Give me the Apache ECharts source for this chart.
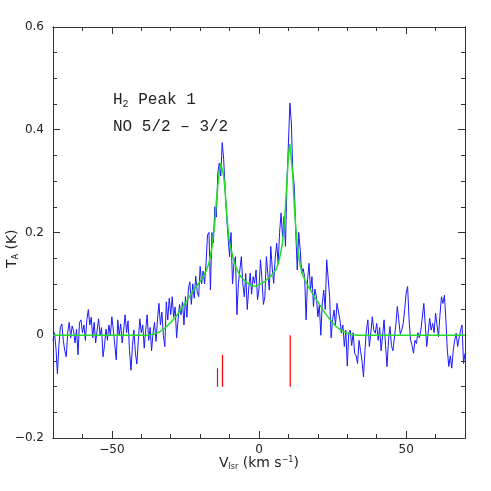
<!DOCTYPE html>
<html>
<head>
<meta charset="utf-8">
<script src="https://cdn.jsdelivr.net/npm/echarts@6/dist/echarts.min.js"></script>
<style>
  html, body { margin: 0; padding: 0; background: #fff; }
  #chart { width: 491px; height: 491px; }
</style>
</head>
<body>
<div id="chart"></div>
<script>
// spectrum channels: first velocity and channel width (km/s)
const vStart = -70;
const vStep = 0.5;
// observed T_A (K), one value per channel from -70 to +70 km/s
const specT = [
  -0.01, 0.005, -0.025, -0.075, -0.02, 0.015, 0.022, -0.01, -0.03, -0.042,
  0.005, 0.025, -0.005, 0.018, 0.008, -0.015, 0.012, -0.038, 0.025, 0.03,
  0.005, 0.02, -0.01, 0.03, 0.05, 0.02, 0.035, -0.005, 0.025, -0.015,
  0.01, 0.032, 0.0, 0.015, -0.042, -0.02, 0.012, -0.01, 0.02, 0.0,
  0.036, 0.01, -0.02, -0.048, 0.03, 0.0, 0.022, -0.015, 0.01, 0.04,
  0.005, 0.028, -0.03, -0.068, -0.02, 0.01, -0.035, -0.056, -0.01, 0.032,
  0.005, 0.02, -0.025, 0.01, 0.04, -0.01, 0.015, -0.03, 0.005, 0.025,
  -0.012, 0.03, 0.062, 0.02, 0.045, 0.0, -0.022, 0.065, 0.03, 0.072,
  0.04, 0.075, 0.035, 0.055, -0.005, 0.03, 0.06, 0.04, 0.065, 0.02,
  0.075, 0.035, 0.09, 0.104, 0.06, 0.1, 0.072, 0.115, 0.085, 0.075,
  0.134, 0.1, 0.125, 0.1, 0.14, 0.195, 0.2, 0.088, 0.2, 0.18,
  0.25, 0.23, 0.316, 0.335, 0.31, 0.375, 0.342, 0.283, 0.231, 0.19,
  0.153, 0.2, 0.1, 0.14, 0.153, 0.04, 0.1, 0.127, 0.153, 0.1,
  0.075, 0.12, 0.05, 0.09, 0.121, 0.08, 0.114, 0.101, 0.127, 0.069,
  0.09, 0.147, 0.11, 0.06, 0.075, 0.153, 0.12, 0.088, 0.173, 0.13,
  0.101, 0.15, 0.179, 0.14, 0.2, 0.238, 0.192, 0.231, 0.173, 0.3,
  0.374, 0.452, 0.413, 0.316, 0.29, 0.199, 0.127, 0.2, 0.166, 0.121,
  0.13, 0.114, 0.03, 0.108, 0.14, 0.088, 0.114, 0.056, 0.09, 0.075,
  0.036, 0.06, 0.0, 0.062, 0.088, 0.05, 0.147, 0.15, 0.075, -0.005,
  0.03, 0.049, 0.02, 0.062, 0.065, 0.03, 0.004, 0.02, -0.022, 0.01,
  -0.06, 0.004, 0.01, -0.02, 0.005, -0.035, -0.04, -0.055, -0.01, -0.03,
  -0.05, -0.081, -0.03, 0.01, 0.03, -0.022, 0.005, 0.036, 0.01, 0.004,
  0.023, -0.01, 0.015, -0.03, 0.0, 0.03, -0.02, -0.061, -0.01, 0.017,
  -0.02, -0.03, -0.029, 0.02, 0.056, 0.03, 0.002, 0.01, 0.023, 0.05,
  0.082, 0.095, 0.03, -0.009, -0.02, -0.035, -0.01, -0.016, 0.005, -0.005,
  0.01, 0.035, 0.062, 0.02, -0.022, 0.005, 0.033, 0.01, 0.023, 0.005,
  0.043, 0.02, -0.003, 0.04, 0.075, 0.062, 0.078, 0.03, -0.029, -0.061,
  -0.04, -0.064, -0.03, -0.01, 0.004, -0.022, -0.005, 0.01, 0.02, -0.055,
  -0.035
];

// fitted profile (green)
const fitV = [-70, -38, -36, -34, -32, -30, -28, -26, -24, -22,
  -20, -18, -17, -16, -15, -14.5, -14, -13.5, -13, -12.5,
  -12, -11.5, -11, -10.5, -10, -9, -8, -7, -6, -5,
  -4, -3, -2, -1, 0, 1, 2, 3, 4, 5,
  6, 7, 8, 8.5, 9, 9.5, 10, 10.5, 11, 11.5,
  12, 12.5, 13, 14, 15, 16, 17, 18, 20, 22,
  24, 26, 28, 30, 32, 34, 70];
const fitT = [0, 0, 0.002, 0.006, 0.014, 0.025, 0.038, 0.055, 0.072, 0.09,
  0.105, 0.125, 0.14, 0.17, 0.22, 0.26, 0.29, 0.32, 0.335, 0.335,
  0.31, 0.28, 0.24, 0.205, 0.18, 0.155, 0.135, 0.122, 0.113, 0.107,
  0.102, 0.098, 0.096, 0.096, 0.098, 0.101, 0.105, 0.11, 0.115, 0.122,
  0.13, 0.15, 0.18, 0.21, 0.25, 0.3, 0.35, 0.372, 0.37, 0.31,
  0.25, 0.21, 0.175, 0.135, 0.115, 0.103, 0.093, 0.083, 0.065, 0.047,
  0.031, 0.018, 0.009, 0.004, 0.001, 0, 0];

// red line markers: velocity, top value, common bottom
const markV = [-14.1, -12.4, 10.6];
const markTop = [-0.064, -0.038, 0.0];
const markBottom = -0.1;

// axis ticks
const xMajor = [-50, 0, 50];
const xMinor = [-60, -40, -30, -20, -10, 10, 20, 30, 40, 60];
const yMajor = [-0.2, 0, 0.2, 0.4, 0.6];
const yMinor = [-0.15, -0.1, -0.05, 0.05, 0.1, 0.15, 0.25, 0.3, 0.35, 0.45, 0.5, 0.55];

const frameColor = '#333';
const labelFont = 'DejaVu Sans';
const noteFont = 'Liberation Mono';

const chart = echarts.init(document.getElementById('chart'));

function fmt(v) {
  return v < 0 ? '\u2212' + Math.abs(v) : String(v);
}

function xAx(pos, ticks, len, withLabel) {
  return {
    type: 'value', min: -70, max: 70, position: pos,
    axisLine: { show: true, onZero: false, lineStyle: { color: frameColor, width: 1 } },
    axisTick: { show: true, inside: true, length: len, customValues: ticks,
      lineStyle: { color: frameColor, width: 1 } },
    axisLabel: withLabel ? { show: true, customValues: ticks, formatter: fmt,
      color: '#222', fontFamily: labelFont, fontSize: 12, margin: 6 } : { show: false },
    splitLine: { show: false }
  };
}

function yAx(pos, ticks, len, withLabel) {
  return {
    type: 'value', min: -0.2, max: 0.6, position: pos,
    axisLine: { show: true, onZero: false, lineStyle: { color: frameColor, width: 1 } },
    axisTick: { show: true, inside: true, length: len, customValues: ticks,
      lineStyle: { color: frameColor, width: 1 } },
    axisLabel: withLabel ? { show: true, customValues: ticks, formatter: fmt,
      color: '#222', fontFamily: labelFont, fontSize: 12, margin: 9 } : { show: false },
    splitLine: { show: false }
  };
}

const xAxes = [
  xAx('bottom', xMajor, 7, true),
  xAx('bottom', xMinor, 4, false),
  xAx('top', xMajor, 7, false),
  xAx('top', xMinor, 4, false)
];
const yAxes = [
  yAx('left', yMajor, 7, true),
  yAx('left', yMinor, 4, false),
  yAx('right', yMajor, 7, false),
  yAx('right', yMinor, 4, false)
];

const markSeries = markV.map((v, i) => ({
  type: 'line',
  data: [[v, markTop[i]], [v, markBottom]],
  showSymbol: false,
  silent: true,
  lineStyle: { color: '#ff0000', width: 1.2 },
  z: 3
}));

const option = {
  animation: false,
  backgroundColor: '#fff',
  grid: { left: 53, right: 26, top: 27, bottom: 53 },
  xAxis: xAxes,
  yAxis: yAxes,
  series: [
    {
      name: 'spectrum',
      type: 'line',
      data: specT.map((t, i) => [vStart + i * vStep, t]),
      showSymbol: false,
      lineStyle: { color: '#1a1aff', width: 1 },
      z: 2
    },
    {
      name: 'fit',
      type: 'line',
      data: fitV.map((v, i) => [v, fitT[i]]),
      showSymbol: false,
      lineStyle: { color: '#22dd22', width: 1.5 },
      z: 4
    },
    ...markSeries
  ],
  graphic: [
    {
      type: 'text', left: 113, top: 92,
      style: {
        text: 'H{s|2} Peak 1',
        font: '16px "' + noteFont + '"', fill: '#222',
        rich: { s: { fontSize: 10, fontFamily: noteFont, padding: [9, 0, 0, 0] } }
      }
    },
    {
      type: 'text', left: 113, top: 119,
      style: { text: 'NO 5/2 \u2013 3/2', font: '16px "' + noteFont + '"', fill: '#222' }
    },
    {
      type: 'text', left: 219, top: 456,
      style: {
        text: 'V{s|lsr} (km s{p|\u22121})',
        font: '14px "DejaVu Sans"', fill: '#222',
        rich: {
          s: { fontSize: 8, fontFamily: labelFont, padding: [7, 0, 0, 0] },
          p: { fontSize: 8, fontFamily: labelFont, padding: [0, 0, 7, 0] }
        }
      }
    },
    {
      type: 'text', x: 5, y: 268, rotation: Math.PI / 2,
      style: {
        text: 'T{s|A} (K)',
        font: '14px "DejaVu Sans"', fill: '#222',
        rich: { s: { fontSize: 8, fontFamily: labelFont, padding: [7, 0, 0, 0] } }
      }
    }
  ]
};

chart.setOption(option);
</script>
</body>
</html>
